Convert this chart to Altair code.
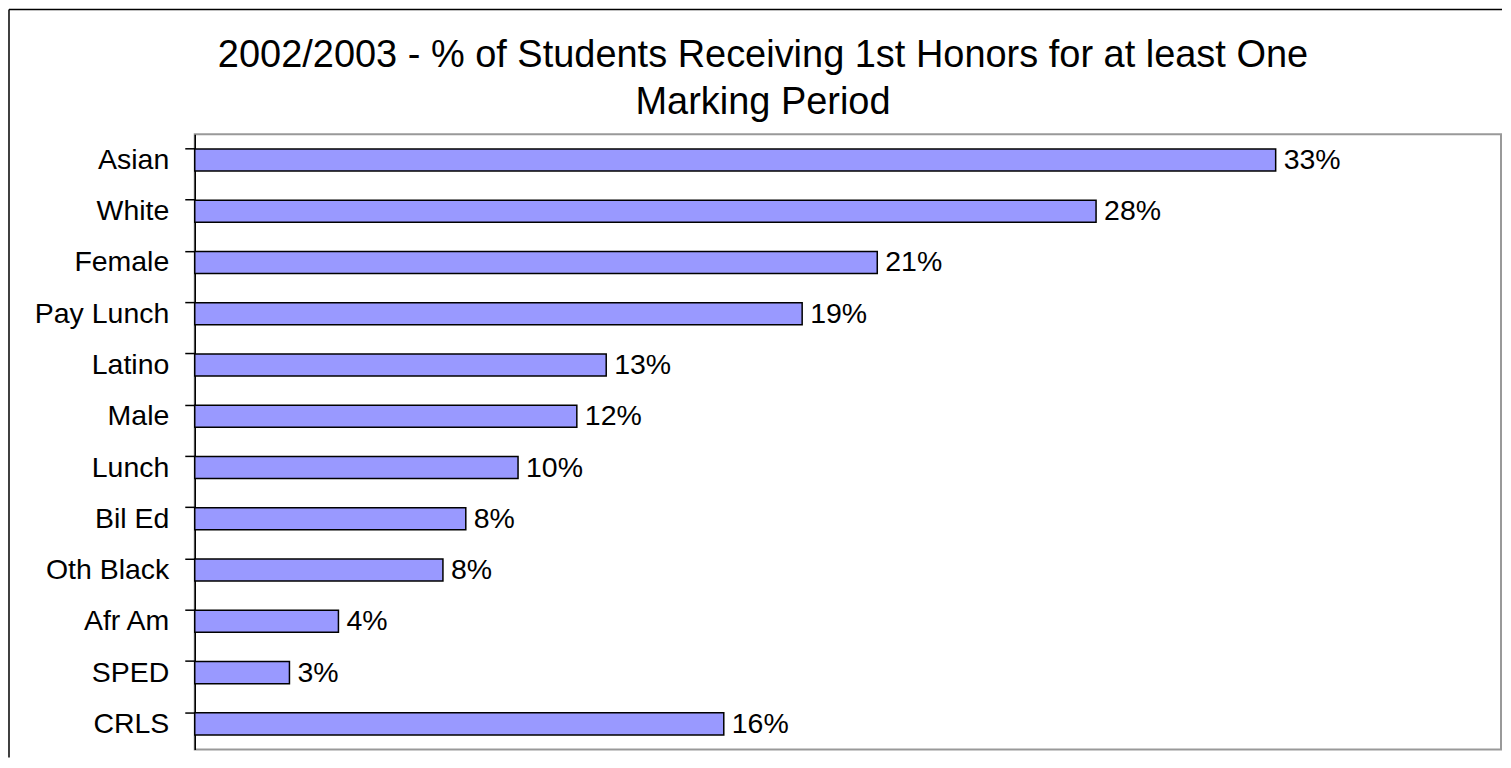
import altair as alt
import pandas as pd

categories = ["Asian", "White", "Female", "Pay Lunch", "Latino", "Male",
              "Lunch", "Bil Ed", "Oth Black", "Afr Am", "SPED", "CRLS"]
values = [0.331, 0.276, 0.209, 0.186, 0.126, 0.117,
          0.099, 0.083, 0.076, 0.044, 0.029, 0.162]
title_lines = ["2002/2003 - % of Students Receiving 1st Honors for at least One",
               "Marking Period"]

df = pd.DataFrame({"group": categories, "pct": values})

FONT = "Liberation Sans"
W, H = 1308, 616

y_enc = alt.Y("group:N", sort=categories, title=None,
              scale=alt.Scale(paddingInner=0.57, paddingOuter=0.285),
              axis=alt.Axis(labelFontSize=28.5, labelFont=FONT, labelColor="black",
                            labelPadding=16, tickSize=10, tickColor="black",
                            domainColor="black", domainWidth=1.5, tickWidth=1.5,
                            bandPosition=0, labelAlign="right"))
x_enc = alt.X("pct:Q", scale=alt.Scale(domain=[0, 0.4], nice=False), axis=None)

bars = alt.Chart(df).mark_bar(fill="#9999FF", stroke="black", strokeWidth=1.5).encode(
    x=x_enc, y=y_enc)

labels = alt.Chart(df).mark_text(align="left", baseline="middle", dx=8,
                                 fontSize=28.5, font=FONT, color="black").encode(
    x=x_enc, y=y_enc, text=alt.Text("pct:Q", format=".0%"))

t1 = alt.Chart(pd.DataFrame({"t": [title_lines[0]]})).mark_text(
    align="center", baseline="alphabetic", fontSize=38, font=FONT, color="black"
).encode(x=alt.value(569), y=alt.value(-67), text="t:N")
t2 = alt.Chart(pd.DataFrame({"t": [title_lines[1]]})).mark_text(
    align="center", baseline="alphabetic", fontSize=38, font=FONT, color="black"
).encode(x=alt.value(569), y=alt.value(-20), text="t:N")

border_df = pd.DataFrame({"k": [0]})
top_line = alt.Chart(border_df).mark_rule(color="black", strokeWidth=1.5).encode(
    x=alt.value(-186), x2=alt.value(W + 1), y=alt.value(-125))
left_line = alt.Chart(border_df).mark_rule(color="black", strokeWidth=1.5).encode(
    x=alt.value(-186), y=alt.value(-125), y2=alt.value(H + 8))

chart = alt.layer(bars, labels, t1, t2, top_line, left_line).properties(
    width=W, height=H, padding=0,
).configure_view(stroke="#999999", strokeWidth=2)

chart.save("out.html", embed_options={"renderer": "svg", "actions": False})
